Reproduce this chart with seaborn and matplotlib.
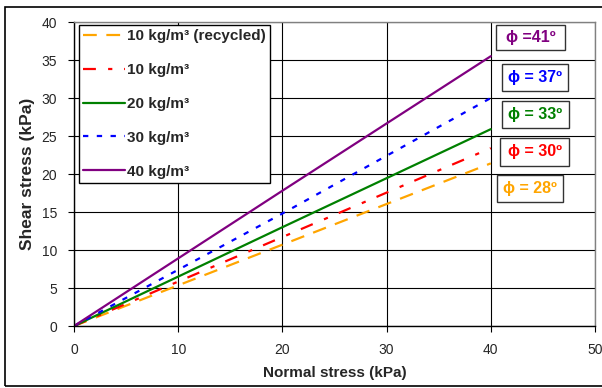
import matplotlib
matplotlib.use("Agg")
import matplotlib.pyplot as plt
import seaborn as sns
import pandas as pd
from matplotlib.patches import Rectangle

sns.set_style("white")
plt.rcParams['font.family'] = ['Liberation Sans', 'DejaVu Sans']

# data
labels = ["10 kg/m³ (recycled)", "10 kg/m³", "20 kg/m³", "30 kg/m³", "40 kg/m³"]
normal_stress = [0, 20, 40]
shear_recycled10 = [0, 10.7, 21.4]
shear_10 = [0, 11.7, 23.4]
shear_20 = [0, 13.0, 25.9]
shear_30 = [0, 14.8, 30.0]
shear_40 = [0, 17.8, 35.5]
phi_labels = ["ϕ =41º", "ϕ = 37º", "ϕ = 33º", "ϕ = 30º", "ϕ = 28º"]

series = [shear_recycled10, shear_10, shear_20, shear_30, shear_40]
colors = ["#FFA500", "#FF0000", "#008000", "#0000FF", "#800080"]
dashes = [(6.2, 4.3), (5.8, 5.5, 1.9, 5.3), (), (2.4, 3.8), ()]

W, H = 602, 388
fig = plt.figure(figsize=(W / 100, H / 100), dpi=100)
ax = fig.add_axes([74 / W, 1 - 326 / H, (595 - 74) / W, (326 - 22) / H])

for lab, ys, c, d in zip(labels, series, colors, dashes):
    df = pd.DataFrame({"x": normal_stress, "y": ys})
    sns.lineplot(data=df, x="x", y="y", ax=ax, color=c, linewidth=1.6, label=lab)
    l = ax.lines[-1]
    if d:
        l.set_dashes(d)

ax.set_xlim(0, 50)
ax.set_ylim(0, 40)
ax.set_xticks(range(0, 51, 10))
ax.set_yticks(range(0, 41, 5))
ax.grid(True, color="#000000", linewidth=0.8)
ax.set_axisbelow(True)
for s in ["top", "right"]:
    ax.spines[s].set_color("#808080")
    ax.spines[s].set_linewidth(1.0)
for s in ["left", "bottom"]:
    ax.spines[s].set_color("#000000")
    ax.spines[s].set_linewidth(1.0)
ax.tick_params(axis="both", direction="out", length=4, width=0.8, color="black",
               labelsize=10, pad=8, bottom=True, left=True)
ax.set_xlabel("Normal stress (kPa)", fontsize=11, fontweight="bold", labelpad=7)
ax.set_ylabel("Shear stress (kPa)", fontsize=12.5, fontweight="bold", labelpad=5)

leg = ax.legend(loc="upper left", bbox_to_anchor=(5 / 521, 1 - 3 / 304),
                frameon=True, fancybox=False, edgecolor="black", framealpha=1,
                prop={"weight": "bold", "size": 11}, handlelength=2.73,
                labelspacing=1.3, borderpad=0.27, handletextpad=0.12, borderaxespad=0)
leg.get_frame().set_linewidth(1.0)

# phi label boxes (figure pixel coords: x0, y0, x1, y1)
boxes = [(496, 25, 565, 50), (502, 64, 568, 91), (502, 101, 569, 128),
         (500, 138, 569, 166), (497, 175, 563, 202)]
box_colors = ["#800080", "#0000FF", "#008000", "#FF0000", "#FFA500"]
for (x0, y0, x1, y1), txt, c in zip(boxes, phi_labels, box_colors):
    rect = Rectangle((x0 / W, 1 - y1 / H), (x1 - x0) / W, (y1 - y0) / H,
                     transform=fig.transFigure, facecolor="white",
                     edgecolor="#333333", linewidth=1.0, zorder=5)
    fig.patches.append(rect)
    fig.text((x0 + x1) / 2 / W, 1 - (y0 + y1) / 2 / H, txt, color=c,
             fontsize=11.5, fontweight="bold", ha="center", va="center", zorder=6)

# outer frame
frame = Rectangle((5 / W, 1 - 386 / H), (W + 10) / W, (386 - 7) / H,
                  transform=fig.transFigure, facecolor="none",
                  edgecolor="black", linewidth=1.2, zorder=10)
fig.patches.append(frame)

fig.savefig("out.png", dpi=100)
